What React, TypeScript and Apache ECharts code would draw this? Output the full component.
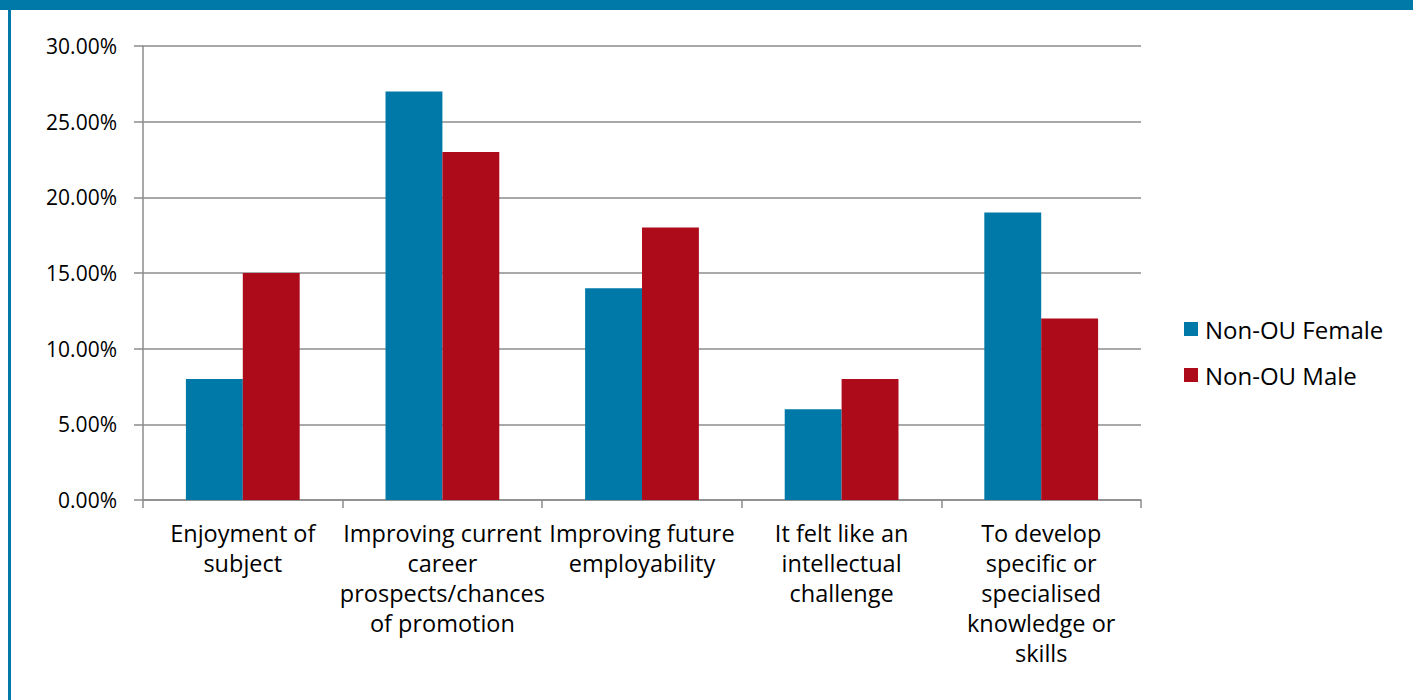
import React, { useEffect, useRef } from "react";
import * as echarts from "echarts";

const categories = [
  "Enjoyment of\nsubject",
  "Improving current\ncareer\nprospects/chances\nof promotion",
  "Improving future\nemployability",
  "It felt like an\nintellectual\nchallenge",
  "To develop\nspecific or\nspecialised\nknowledge or\nskills",
];
const femaleValues = [8, 27, 14, 6, 19];
const maleValues = [15, 23, 18, 8, 12];
const seriesNames = ["Non-OU Female", "Non-OU Male"];

const BLUE = "#0079A8";
const RED = "#AD0A1A";
const FONT = "Open Sans";

export default function App() {
  const ref = useRef<HTMLDivElement>(null);
  useEffect(() => {
    if (!ref.current) return;
    const chart = echarts.init(ref.current, null, { renderer: "svg" });
    chart.setOption({
      animation: false,
      textStyle: { fontFamily: FONT },
      graphic: [
        { type: "rect", left: 0, top: 0, shape: { x: 0, y: 0, width: 1413, height: 10 }, style: { fill: BLUE }, silent: true },
        { type: "rect", left: 8, top: 10, shape: { x: 0, y: 0, width: 3, height: 690 }, style: { fill: BLUE }, silent: true },
      ],
      grid: { left: 143, top: 46, width: 998, height: 454, containLabel: false },
      legend: {
        orient: "vertical",
        left: 1184,
        top: 317,
        padding: 0,
        itemWidth: 14,
        itemHeight: 14,
        itemGap: 22,
        icon: "rect",
        textStyle: { fontFamily: FONT, fontSize: 24, color: "#000", lineHeight: 24, padding: [0, 0, 0, 2] },
        data: seriesNames,
      },
      xAxis: {
        type: "category",
        data: categories,
        axisLine: { show: true, lineStyle: { color: "#8c8c8c", width: 1.5 } },
        axisTick: { show: true, length: 8, lineStyle: { color: "#8c8c8c", width: 1.5 } },
        axisLabel: {
          interval: 0,
          margin: 18,
          color: "#000",
          fontFamily: FONT,
          fontSize: 23.5,
          lineHeight: 30,
          align: "center",
        },
      },
      yAxis: {
        type: "value",
        min: 0,
        max: 30,
        interval: 5,
        axisLine: { show: true, lineStyle: { color: "#8c8c8c", width: 1.5 } },
        axisTick: { show: true, inside: false, length: 9, lineStyle: { color: "#8c8c8c", width: 1.5 } },
        splitLine: { show: true, lineStyle: { color: "#8c8c8c", width: 1.5 } },
        axisLabel: {
          margin: 26,
          color: "#000",
          fontFamily: FONT,
          fontSize: 21,
          formatter: (v: number) => v.toFixed(2) + "%",
        },
      },
      series: [
        {
          name: seriesNames[0],
          type: "bar",
          data: femaleValues,
          itemStyle: { color: BLUE },
          barGap: "0%",
          barCategoryGap: "43%",
        },
        {
          name: seriesNames[1],
          type: "bar",
          data: maleValues,
          itemStyle: { color: RED },
          barGap: "0%",
          barCategoryGap: "43%",
        },
      ],
    });
    return () => chart.dispose();
  }, []);
  return (
    <div
      ref={ref}
      style={{ position: "absolute", left: 0, top: 0, width: 1413, height: 700, background: "#fff" }}
    />
  );
}
